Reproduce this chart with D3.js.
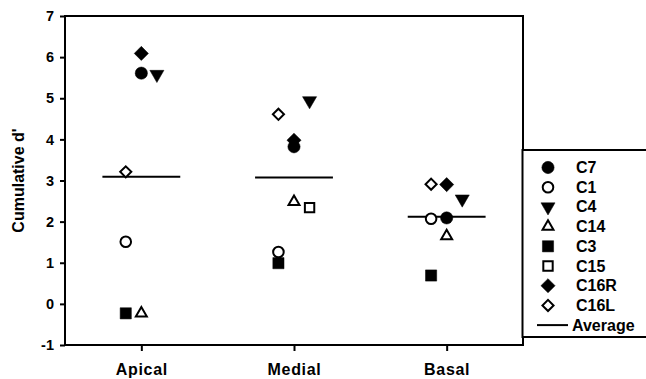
<!DOCTYPE html>
<html>
<head>
<meta charset="utf-8">
<script src="https://cdn.jsdelivr.net/npm/d3@7"></script>
<style>
  html, body { margin: 0; padding: 0; background: #fff; }
  svg { display: block; font-family: "Liberation Sans", Arial, Helvetica, sans-serif; }
</style>
</head>
<body>
<svg id="chart" width="646" height="379"></svg>
<script>
// Cochlear region categories and tick values
const categories = ["Apical", "Medial", "Basal"];
const yTicks = [-1, 0, 1, 2, 3, 4, 5, 6, 7];

// Cumulative d' per subject (Apical, Medial, Basal); null = not measured
const seriesNames = ["C7", "C1", "C4", "C14", "C3", "C15", "C16R", "C16L"];
const c7   = [5.61, 3.82, 2.09];
const c1   = [1.51, 1.26, 2.07];
const c4   = [5.58, 4.94, 2.55];
const c14  = [-0.23, 2.48, 1.65];
const c3   = [-0.23, 0.99, 0.69];
const c15  = [null, 2.34, null];
const c16R = [6.09, 3.98, 2.90];
const c16L = [3.21, 4.61, 2.91];
const averages = [3.09, 3.07, 2.12];

const seriesValues = [c7, c1, c4, c14, c3, c15, c16R, c16L];

// Marker style for each subject: shape, filled or hollow, horizontal dodge slot
const markerStyle = {
  C7:   { shape: "circle",   filled: true,  slot: 0 },
  C1:   { shape: "circle",   filled: false, slot: -1 },
  C4:   { shape: "triDown",  filled: true,  slot: 1 },
  C14:  { shape: "triUp",    filled: false, slot: 0 },
  C3:   { shape: "square",   filled: true,  slot: -1 },
  C15:  { shape: "square",   filled: false, slot: 1 },
  C16R: { shape: "diamond",  filled: true,  slot: 0 },
  C16L: { shape: "diamond",  filled: false, slot: -1 }
};

const svg = d3.select("#chart");
const plot = { left: 65, top: 16, right: 523, bottom: 345 };

const x = d3.scalePoint().domain(categories).range([plot.left, plot.right]).padding(0.5);
const y = d3.scaleLinear().domain([-1, 7]).range([plot.bottom, plot.top]);
const dodge = x.step() * 0.102;

function markerPath(shape, filled) {
  const sym = d3.symbol();
  switch (shape) {
    case "circle":  return sym.type(d3.symbolCircle).size(filled ? 118 : 88)();
    case "triDown": return sym.type(d3.symbolTriangle).size(86)();
    case "triUp":   return sym.type(d3.symbolTriangle).size(filled ? 86 : 52)();
    case "square":  return sym.type(d3.symbolSquare).size(filled ? 125 : 88)();
    case "diamond": return sym.type(d3.symbolSquare).size(filled ? 100 : 62)();
  }
}
function markerRotation(shape) {
  if (shape === "triDown") return 180;
  if (shape === "diamond") return 45;
  return 0;
}

function drawMarker(g, name, cx, cy) {
  const st = markerStyle[name];
  g.append("path")
    .attr("d", markerPath(st.shape, st.filled))
    .attr("transform", `translate(${cx},${cy}) rotate(${markerRotation(st.shape)})`)
    .attr("fill", st.filled ? "#000" : "#fff")
    .attr("stroke", "#000")
    .attr("stroke-width", st.filled ? 0.5 : 2)
    .attr("stroke-linejoin", "miter");
}

// Axes (ticks and labels only; the frame is drawn separately)
const yAxis = d3.axisLeft(y).tickValues(yTicks).tickSize(5).tickPadding(6).tickFormat(d => String(d));
const yG = svg.append("g").attr("transform", `translate(${plot.left},0)`).call(yAxis);
yG.select(".domain").remove();
yG.selectAll(".tick line").attr("stroke", "#000").attr("stroke-width", 2);
yG.selectAll(".tick text").attr("fill", "#000").attr("font-size", 14.5).attr("font-weight", "bold")
  .attr("font-family", "Liberation Sans, Arial, sans-serif");

const xAxis = d3.axisBottom(x).tickSize(6).tickPadding(13);
const xG = svg.append("g").attr("transform", `translate(0,${plot.bottom})`).call(xAxis);
xG.select(".domain").remove();
xG.selectAll(".tick line").attr("stroke", "#000").attr("stroke-width", 2);
xG.selectAll(".tick text").attr("fill", "#000").attr("font-size", 16).attr("font-weight", "bold")
  .attr("letter-spacing", "0.7px")
  .attr("font-family", "Liberation Sans, Arial, sans-serif");

// Plot frame
svg.append("rect")
  .attr("x", plot.left).attr("y", plot.top)
  .attr("width", plot.right - plot.left).attr("height", plot.bottom - plot.top)
  .attr("fill", "none").attr("stroke", "#000").attr("stroke-width", 2);

// Y axis title
svg.append("text")
  .attr("transform", `translate(18,${(plot.top + plot.bottom) / 2}) rotate(-90)`)
  .attr("text-anchor", "middle")
  .attr("dominant-baseline", "central")
  .attr("font-size", 16).attr("font-weight", "bold")
  .text("Cumulative d'");

// Average lines
const avgG = svg.append("g");
categories.forEach((c, i) => {
  avgG.append("line")
    .attr("x1", x(c) - x.step() * 0.255).attr("x2", x(c) + x.step() * 0.255)
    .attr("y1", y(averages[i])).attr("y2", y(averages[i]))
    .attr("stroke", "#000").attr("stroke-width", 2);
});

// Subject markers
const ptG = svg.append("g");
seriesNames.forEach((name, si) => {
  seriesValues[si].forEach((v, ci) => {
    if (v === null) return;
    drawMarker(ptG, name, x(categories[ci]) + markerStyle[name].slot * dodge, y(v));
  });
});

// Legend
const legend = { x: 522.5, y: 150, bottom: 337, rowY: 167.5, rowGap: 19.7, symX: 548, textX: 576 };
const lg = svg.append("g");
lg.append("rect")
  .attr("x", legend.x).attr("y", legend.y)
  .attr("width", 200).attr("height", legend.bottom - legend.y)
  .attr("fill", "#fff").attr("stroke", "#000").attr("stroke-width", 2);
seriesNames.forEach((name, i) => {
  const ry = legend.rowY + i * legend.rowGap;
  drawMarker(lg, name, legend.symX, ry);
  lg.append("text").attr("x", legend.textX).attr("y", ry)
    .attr("dominant-baseline", "central")
    .attr("font-size", 16).attr("font-weight", "bold").text(name);
});
const avgRow = legend.rowY + seriesNames.length * legend.rowGap;
lg.append("line")
  .attr("x1", 537).attr("x2", 568).attr("y1", avgRow).attr("y2", avgRow)
  .attr("stroke", "#000").attr("stroke-width", 2);
lg.append("text").attr("x", 572).attr("y", avgRow)
  .attr("dominant-baseline", "central")
  .attr("font-size", 16).attr("font-weight", "bold").text("Average");
</script>
</body>
</html>
